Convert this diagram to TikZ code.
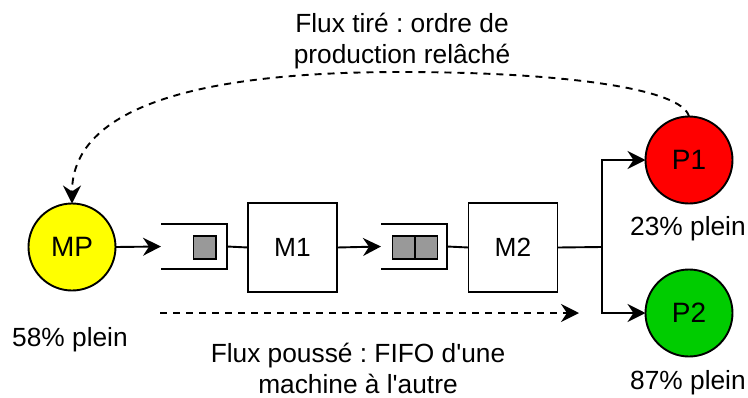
\documentclass[tikz,border=0pt]{standalone}
\usepackage{fontspec}
\setmainfont{Liberation Sans}
\usetikzlibrary{arrows.meta}
\definecolor{mpyellow}{HTML}{FFFF00}
\definecolor{pred}{HTML}{FF0000}
\definecolor{pgreen}{HTML}{00CC00}
\definecolor{qgrey}{HTML}{999999}
\frenchspacing
\begin{document}
\begin{tikzpicture}[x=1pt,y=-1pt,
  font=\fontsize{26.3}{31}\selectfont,
  every node/.style={inner sep=0pt, outer sep=0pt},
  line/.style={line width=1.9pt},
  arr/.style={line width=1.9pt, -{Stealth[length=18pt,width=18pt,inset=6pt]}},
  stock/.style={circle, draw, line width=1.9pt, minimum size=87pt, font=\fontsize{28}{31}\selectfont},
  machine/.style={rectangle, draw, line width=1.9pt, minimum width=89pt, minimum height=89pt},
  buffer/.style={rectangle, minimum width=66pt, minimum height=45pt},
  part/.style={rectangle, draw, line width=1.5pt, fill=qgrey, minimum width=22.5pt, minimum height=23pt},
  lbl/.style={align=center, anchor=base},
  dashline/.style={dash pattern=on 7pt off 6pt}
]
\useasboundingbox (0,0) rectangle (748,397);
% stocks
\node[stock, fill=mpyellow] (MP) at (72,247) {MP};
\node[stock, fill=pred] (P1) at (689,160) {P1};
\node[stock, fill=pgreen] (P2) at (689,313) {P2};
% machines
\node[machine] (M1) at (292.5,247.5) {M1};
\node[machine] (M2) at (513,247.5) {M2};
% buffers
\node[buffer] (B1) at (194,246.5) {};
\node[buffer] (B2) at (414,246.5) {};
\draw[line] (B1.north west) -- (B1.north east) -- (B1.south east) -- (B1.south west);
\draw[line] (B2.north west) -- (B2.north east) -- (B2.south east) -- (B2.south west);
\node[part] (Q1) at (204.5,247.5) {};
\node[part] (Q2a) at (403.75,247.5) {};
\node[part] (Q2b) at (426.25,247.5) {};
% flow connectors
\draw[arr] (MP.east) -- (B1.west);
\draw[line] (B1.east) -- (M1.west);
\draw[arr] (M1.east) -- (B2.west);
\draw[line] (B2.east) -- (M2.west);
\coordinate (J) at (602,247);
\draw[line] (M2.east) -- (J);
\draw[arr] (J) |- (P1.west);
\draw[arr] (J) |- (P2.west);
% push flow
\coordinate (PS) at (160,313);
\coordinate (PE) at (579,313);
\draw[arr, dashline] (PS) -- (PE);
% pull flow
\draw[arr, dashline] (P1.north) .. controls (682,88) and (560,72) .. (400,72)
  .. controls (220,72) and (72,100) .. (MP.north);
% labels
\node[lbl] (T1) at (402,63) {Flux tiré : ordre de\\production relâché};
\node[lbl] (T2) at (358,393) {Flux poussé : FIFO d\textquotesingle une\\machine à l\textquotesingle autre};
\node[lbl] (L1) at (70,346) {58\% plein};
\node[lbl] (L2) at (688,235) {23\% plein};
\node[lbl] (L3) at (688,389) {87\% plein};
\end{tikzpicture}
\end{document}
